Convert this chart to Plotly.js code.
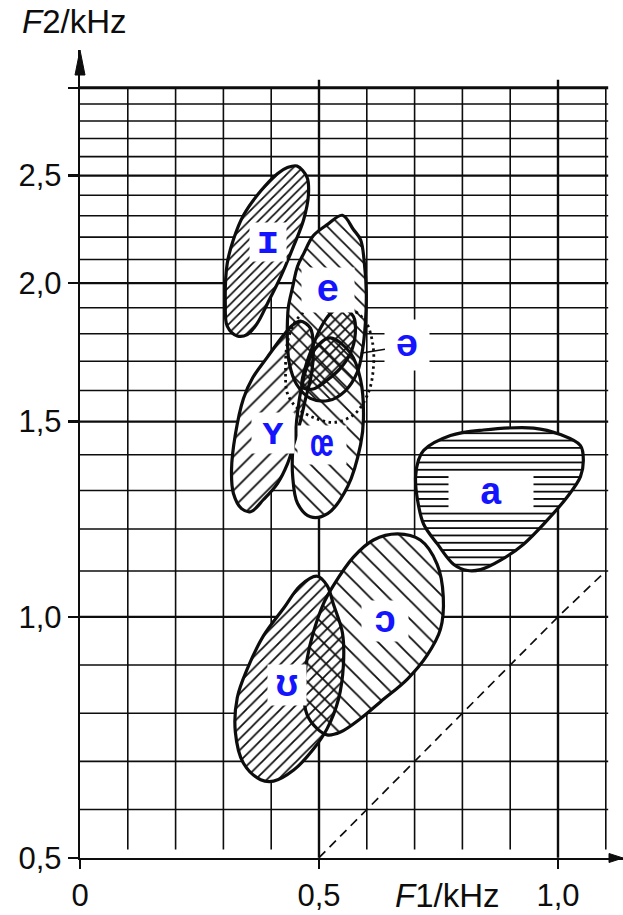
<!DOCTYPE html>
<html>
<head>
<meta charset="utf-8">
<script src="https://cdn.plot.ly/plotly-3.0.1.min.js"></script>
<style>
  html, body { margin: 0; padding: 0; background: #ffffff; }
  #chart { width: 623px; height: 915px; }
</style>
</head>
<body>
<div id="chart"></div>
<script>
// Formant areas of German vowels in the F1/F2 plane.
// The F2 axis uses the Koenig scale: linear below 1 kHz, logarithmic above.

// ---- axes and grid (kHz) ----
const f1Ticks = [0, 0.5, 1.0];
const f1TickText = ['0', '0,5', '1,0'];
const f2Ticks = [0.5, 1.0, 1.5, 2.0, 2.5, 3.0];
const f2TickText = ['0,5', '1,0', '1,5', '2,0', '2,5', ''];
const gridF1 = [0.1, 0.2, 0.3, 0.4, 0.5, 0.6, 0.7, 0.8, 0.9, 1.0, 1.1];
const gridF2 = [0.6, 0.7, 0.8, 0.9, 1.0, 1.1, 1.2, 1.3, 1.4, 1.5, 1.6, 1.7, 1.8, 1.9,
                2.0, 2.1, 2.2, 2.3, 2.4, 2.5, 2.6, 2.7, 2.8, 2.9, 3.0];
const majorF1 = [0.5, 1.0];
const majorF2 = [1.0, 1.5, 2.0, 2.5];

// ---- vowel areas: outline points (F1, F2 in kHz) ----
const iF1 = [0.454, 0.475, 0.478, 0.468, 0.447, 0.420, 0.392, 0.371, 0.350, 0.329, 0.308, 0.304, 0.308, 0.321, 0.342, 0.378, 0.413, 0.434];
const iF2 = [2.550, 2.491, 2.405, 2.282, 2.160, 2.027, 1.916, 1.840, 1.797, 1.792, 1.829, 1.916, 2.083, 2.189, 2.302, 2.421, 2.510, 2.542];

const eF1 = [0.549, 0.572, 0.587, 0.595, 0.599, 0.597, 0.591, 0.580, 0.555, 0.520, 0.482, 0.453, 0.438, 0.434, 0.434, 0.436, 0.445, 0.455, 0.468, 0.488, 0.518];
const eF2 = [2.302, 2.235, 2.188, 2.083, 1.957, 1.840, 1.740, 1.661, 1.599, 1.567, 1.574, 1.621, 1.692, 1.768, 1.848, 1.904, 1.985, 2.070, 2.126, 2.206, 2.259];

const leafF1 = [0.545, 0.572, 0.576, 0.566, 0.545, 0.518, 0.488, 0.465, 0.472, 0.486, 0.503, 0.524];
const leafF2 = [1.904, 1.866, 1.802, 1.729, 1.676, 1.636, 1.605, 1.612, 1.682, 1.750, 1.821, 1.878];

const oeF1 = [0.524, 0.566, 0.587, 0.593, 0.587, 0.560, 0.518, 0.482, 0.455, 0.445, 0.445, 0.453, 0.461, 0.478, 0.499];
const oeF2 = [1.785, 1.729, 1.636, 1.510, 1.430, 1.311, 1.239, 1.231, 1.266, 1.338, 1.413, 1.501, 1.590, 1.698, 1.760];

const yF1 = [0.461, 0.482, 0.488, 0.484, 0.472, 0.461, 0.447, 0.434, 0.413, 0.384, 0.357, 0.338, 0.321, 0.317, 0.325, 0.342, 0.361, 0.392, 0.426, 0.445];
const yF2 = [1.848, 1.821, 1.750, 1.652, 1.574, 1.501, 1.430, 1.374, 1.319, 1.276, 1.244, 1.252, 1.292, 1.357, 1.460, 1.574, 1.642, 1.715, 1.795, 1.833];

const aF1 = [0.719, 0.775, 0.844, 0.949, 1.005, 1.047, 1.053, 1.047, 1.020, 0.978, 0.928, 0.880, 0.838, 0.811, 0.782, 0.748, 0.719, 0.706, 0.702, 0.708];
const aF2 = [1.413, 1.457, 1.474, 1.480, 1.460, 1.427, 1.384, 1.338, 1.284, 1.223, 1.163, 1.125, 1.103, 1.101, 1.115, 1.163, 1.212, 1.276, 1.338, 1.384];

const openOF1 = [0.664, 0.712, 0.747, 0.760, 0.754, 0.726, 0.685, 0.629, 0.587, 0.545, 0.517, 0.496, 0.475, 0.468, 0.475, 0.488, 0.509, 0.530, 0.572, 0.614];
const openOF2 = [1.188, 1.173, 1.116, 1.043, 0.974, 0.920, 0.871, 0.824, 0.789, 0.761, 0.755, 0.768, 0.797, 0.844, 0.912, 0.967, 1.027, 1.067, 1.132, 1.173];

const upsF1 = [0.496, 0.517, 0.530, 0.549, 0.551, 0.541, 0.517, 0.488, 0.447, 0.405, 0.378, 0.342, 0.325, 0.329, 0.350, 0.384, 0.426, 0.461];
const upsF2 = [1.088, 1.067, 1.027, 0.967, 0.899, 0.830, 0.768, 0.725, 0.682, 0.659, 0.662, 0.696, 0.761, 0.832, 0.892, 0.961, 1.018, 1.067];

// schwa region (dotted outline)
const schwaF1 = [0.524, 0.566, 0.597, 0.612, 0.614, 0.604, 0.576, 0.534, 0.493, 0.455, 0.434, 0.430, 0.434, 0.451, 0.482];
const schwaF2 = [1.916, 1.896, 1.848, 1.768, 1.682, 1.596, 1.526, 1.498, 1.510, 1.542, 1.590, 1.667, 1.768, 1.848, 1.900];
const schwaPointF1 = 0.587;
const schwaPointF2 = 1.729;

// F1 = F2 reference line
const diagF1 = [0.5, 1.0, 1.1];
const diagF2 = [0.5, 1.0, 1.1];

// vowel symbols
const labels = ['ɪ', 'e', 'ə', 'ʏ', 'œ', 'a', 'ɔ', 'ʊ'];
const labelF1 = [0.394, 0.518, 0.685, 0.403, 0.507, 0.859, 0.639, 0.432];
const labelF2 = [2.178, 1.973, 1.757, 1.466, 1.430, 1.292, 0.992, 0.859];

// ---- styling ----
const INK = '#0d0d0d';
const LABEL_BLUE = '#1414ff';
const TEXT_FONT = 'Liberation Sans, Arial, Helvetica, sans-serif';
const SYMBOL_FONT = 'Liberation Mono, DejaVu Sans Mono, monospace';
const labelBoxW = [36, 52, 44, 42, 48, 84, 46, 38];
const labelBoxH = [38, 44, 50, 40, 38, 36, 40, 40];

// Koenig scale position of a frequency in kHz
const koenig = f => (f <= 1 ? f : 1 + Math.log(f));
const closeLoop = a => a.concat([a[0]]);

const areas = [
  { f1: iF1,    f2: iF2,    hatch: '/',  size: 6.5, solidity: 0.26 },
  { f1: eF1,    f2: eF2,    hatch: '\\', size: 10,  solidity: 0.17 },
  { f1: yF1,    f2: yF2,    hatch: '/',  size: 12,  solidity: 0.15 },
  { f1: oeF1,   f2: oeF2,   hatch: '\\', size: 13,  solidity: 0.14 },
  { f1: leafF1, f2: leafF2, hatch: '/',  size: 7,   solidity: 0.25 },
  { f1: aF1,    f2: aF2,    hatch: '-',  size: 7.3, solidity: 0.25 },
  { f1: openOF1,f2: openOF2,hatch: '\\', size: 13,  solidity: 0.14 },
  { f1: upsF1,  f2: upsF2,  hatch: '/',  size: 8,   solidity: 0.22 }
];

const traces = [];

// white ground of every area first, so the grid does not show through
areas.forEach(a => {
  traces.push({
    type: 'scatter', mode: 'lines',
    x: closeLoop(a.f1), y: closeLoop(a.f2).map(koenig),
    fill: 'toself', fillcolor: '#ffffff',
    line: { width: 0, shape: 'spline', smoothing: 1 },
    hoverinfo: 'skip', showlegend: false
  });
});

// hatching and outlines on top, so overlaps become cross-hatched
areas.forEach(a => {
  traces.push({
    type: 'scatter', mode: 'lines',
    x: closeLoop(a.f1), y: closeLoop(a.f2).map(koenig),
    fill: 'toself', fillcolor: 'rgba(0,0,0,0)',
    fillpattern: {
      shape: a.hatch, size: a.size, solidity: a.solidity,
      fgcolor: INK, bgcolor: 'rgba(0,0,0,0)', fillmode: 'replace'
    },
    line: { color: INK, width: 3.2, shape: 'spline', smoothing: 1 },
    hoverinfo: 'skip', showlegend: false
  });
});

// schwa: dotted outline, no hatching
traces.push({
  type: 'scatter', mode: 'lines',
  x: closeLoop(schwaF1), y: closeLoop(schwaF2).map(koenig),
  line: { color: INK, width: 2.8, dash: '2.5px,3.5px', shape: 'spline', smoothing: 1 },
  hoverinfo: 'skip', showlegend: false
});

// F1 = F2 line
traces.push({
  type: 'scatter', mode: 'lines',
  x: diagF1, y: diagF2.map(koenig),
  line: { color: INK, width: 1.7, dash: '9px,6px' },
  hoverinfo: 'skip', showlegend: false
});

// ---- grid as shapes below the areas ----
const GRID_BOTTOM_F2 = 0.517;
const GRID_TOP_F2 = 3.0;
const MAJOR_TOP_F2 = 3.05;
const GRID_RIGHT_F1 = 1.105;

const shapes = [];
gridF1.forEach(f => {
  const major = majorF1.includes(f);
  shapes.push({
    type: 'line', layer: 'below', xref: 'x', yref: 'y',
    x0: f, x1: f,
    y0: koenig(major ? 0.5 : GRID_BOTTOM_F2),
    y1: koenig(major ? MAJOR_TOP_F2 : GRID_TOP_F2),
    line: { color: INK, width: major ? 2.4 : 1.6 }
  });
});
gridF2.forEach(f => {
  const top = f === GRID_TOP_F2;
  const major = majorF2.includes(f);
  shapes.push({
    type: 'line', layer: 'below', xref: 'x', yref: 'y',
    x0: 0, x1: GRID_RIGHT_F1, y0: koenig(f), y1: koenig(f),
    line: { color: INK, width: top ? 2.8 : (major ? 2.2 : 1.6) }
  });
});

// arrow heads on both axes (pixel-sized, anchored to the plot corners)
shapes.push({
  type: 'path', xref: 'paper', yref: 'paper',
  xsizemode: 'pixel', ysizemode: 'pixel', xanchor: 0, yanchor: 1,
  path: 'M-5,-25 L0,0 L5,-25 Z',
  fillcolor: INK, line: { color: INK, width: 1 }
});
shapes.push({
  type: 'path', xref: 'paper', yref: 'paper',
  xsizemode: 'pixel', ysizemode: 'pixel', xanchor: 1, yanchor: 0,
  path: 'M0,0 L-14,4.5 L-14,-4.5 Z',
  fillcolor: INK, line: { color: INK, width: 1 }
});

// ---- vowel symbols ----
const annotations = labels.map((t, i) => {
  const ann = {
    text: '<b>' + t + '</b>',
    x: labelF1[i], y: koenig(labelF2[i]), xref: 'x', yref: 'y',
    showarrow: false,
    font: { family: SYMBOL_FONT, size: 38, color: LABEL_BLUE },
    bgcolor: '#ffffff', borderpad: 0,
    width: labelBoxW[i], height: labelBoxH[i],
    xanchor: 'center', yanchor: 'middle'
  };
  if (t === 'ə') {
    // pointer line from the symbol to the dotted area
    Object.assign(ann, {
      x: schwaPointF1, y: koenig(schwaPointF2),
      ax: labelF1[i], ay: koenig(labelF2[i]), axref: 'x', ayref: 'y',
      showarrow: true, arrowhead: 0, arrowwidth: 1.5, arrowcolor: INK, standoff: 0
    });
  }
  return ann;
});

// axis titles
annotations.push({
  text: '<i>F</i>2/kHz', xref: 'paper', yref: 'paper',
  x: -0.011, y: 1.0347, xanchor: 'center', yanchor: 'middle',
  showarrow: false, font: { family: TEXT_FONT, size: 33, color: INK }
});
annotations.push({
  text: '<i>F</i>1/kHz', xref: 'x', yref: 'paper',
  x: 0.769, y: -0.0458, xanchor: 'center', yanchor: 'middle',
  showarrow: false, font: { family: TEXT_FONT, size: 33, color: INK }
});

const layout = {
  width: 623, height: 915,
  margin: { l: 80, r: 0, t: 50, b: 57, pad: 0 },
  paper_bgcolor: '#ffffff', plot_bgcolor: '#ffffff',
  showlegend: false,
  xaxis: {
    range: [0, 543 / 478], fixedrange: true,
    showgrid: false, zeroline: false,
    showline: true, linecolor: INK, linewidth: 2.2,
    ticks: 'outside', ticklen: 9, tickwidth: 2.2, tickcolor: INK,
    tickvals: f1Ticks, ticktext: f1TickText, ticklabelstandoff: 0,
    tickfont: { family: TEXT_FONT, size: 31, color: INK }
  },
  yaxis: {
    range: [0.4994, 2.17697], fixedrange: true,
    showgrid: false, zeroline: false,
    showline: true, linecolor: INK, linewidth: 2.2,
    ticks: 'outside', ticklen: 10, tickwidth: 2.2, tickcolor: INK,
    tickvals: f2Ticks.map(koenig), ticktext: f2TickText, ticklabelstandoff: 0,
    tickfont: { family: TEXT_FONT, size: 31, color: INK }
  },
  shapes: shapes,
  annotations: annotations
};

Plotly.newPlot('chart', traces, layout, { staticPlot: true, displayModeBar: false });
</script>
</body>
</html>
